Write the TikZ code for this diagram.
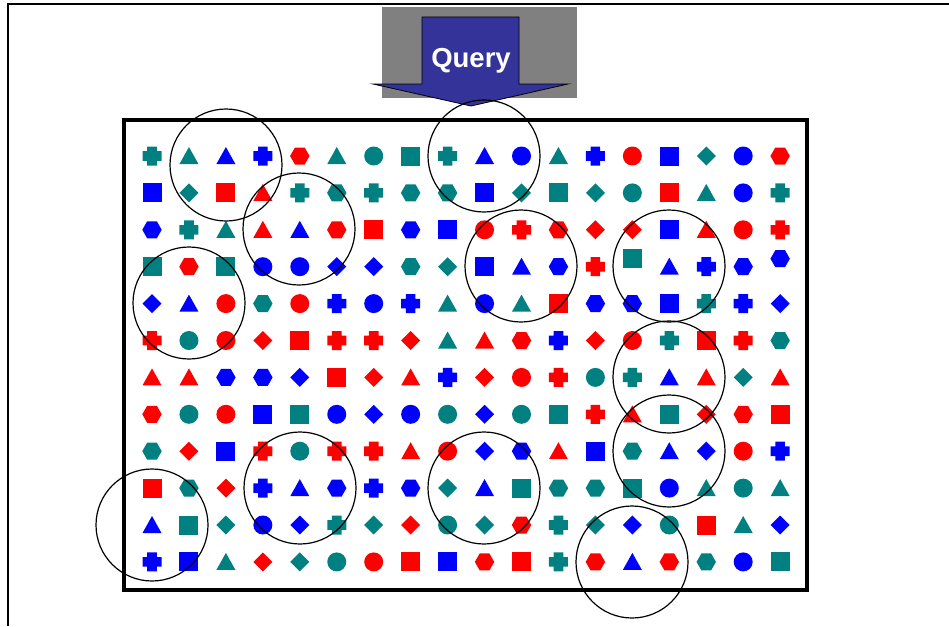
\documentclass[tikz,border=0pt]{standalone}
\usepackage{fontspec}
\setmainfont{Liberation Sans}
\definecolor{colT}{RGB}{0,128,128}
\definecolor{colB}{RGB}{0,0,255}
\definecolor{colR}{RGB}{255,0,0}
\definecolor{qblue}{RGB}{51,51,153}
\definecolor{qgray}{RGB}{128,128,128}
\def\shpsq{(-9.5,-9.5) rectangle (9.5,9.5)}
\def\shpsqU{(-9.5,-17.5) rectangle (9.5,1.5)}
\def\shpci{(0,0) circle (9.5)}
\def\shptr{(0,-9) -- (9.5,8) -- (-9.5,8) -- cycle}
\def\shphx{(-9.7,0) -- (-4.85,-8.5) -- (4.85,-8.5) -- (9.7,0) -- (4.85,8.5) -- (-4.85,8.5) -- cycle}
\def\shphxU{(-9.7,-8) -- (-4.85,-16.5) -- (4.85,-16.5) -- (9.7,-8) -- (4.85,0.5) -- (-4.85,0.5) -- cycle}
\def\shpdm{(0,-9.5) -- (9.5,0) -- (0,9.5) -- (-9.5,0) -- cycle}
\def\shpcr{(-9.5,-4.8) rectangle (9.5,4.8) (-4.8,-9.5) rectangle (4.8,9.5)}
\tikzset{
  ring/.style={draw=black, line width=1.2pt},
  qarrow/.style={fill=qblue, draw=black, line width=0.8pt},
}
\begin{document}
\begin{tikzpicture}[x=1pt,y=-1pt]
\useasboundingbox (0,0) rectangle (949,626);
\fill[white] (0,0) rectangle (949,626);
% outer frame
\draw[line width=2pt] (949,4) -- (8,4) -- (8,626);
% query box
\fill[qgray] (382,7) rectangle (577,98);
\draw[qarrow] (422,17) -- (519,17) -- (519,84) -- (568,84) -- (471,106) -- (373,84) -- (422,84) -- cycle;
\node[text=white, font=\bfseries\fontsize{27.5}{30}\selectfont] (query) at (471,60.5) {Query};
% grid of shapes
\foreach \row [count=\r] in {
 {cr/T,tr/T,tr/B,cr/B,hx/R,tr/T,ci/T,sq/T,cr/T,tr/B,ci/B,tr/T,cr/B,ci/R,sq/B,dm/T,ci/B,hx/R},
 {sq/B,dm/T,sq/R,tr/R,cr/T,hx/T,cr/T,hx/T,hx/T,sq/B,dm/T,sq/T,dm/T,ci/T,sq/R,tr/T,ci/B,cr/T},
 {hx/B,cr/T,tr/T,tr/R,tr/B,hx/R,sq/R,hx/B,sq/B,ci/R,cr/R,hx/R,dm/R,dm/R,sq/B,tr/R,ci/R,cr/R},
 {sq/T,hx/R,sq/T,ci/B,ci/B,dm/B,dm/B,hx/T,dm/T,sq/B,tr/B,hx/B,cr/R,sqU/T,tr/B,cr/B,hx/B,hxU/B},
 {dm/B,tr/B,ci/R,hx/T,ci/R,cr/B,ci/B,cr/B,tr/T,ci/B,tr/T,sq/R,hx/B,hx/B,sq/B,cr/T,cr/B,dm/B},
 {cr/R,ci/T,ci/R,dm/R,sq/R,cr/R,cr/R,dm/R,tr/T,tr/R,hx/R,cr/B,dm/R,ci/R,cr/T,sq/R,cr/R,hx/T},
 {tr/R,tr/R,hx/B,hx/B,dm/B,sq/R,dm/R,tr/R,cr/B,dm/R,ci/R,cr/R,ci/T,cr/T,tr/B,tr/R,dm/T,tr/R},
 {hx/R,ci/T,ci/R,sq/B,sq/T,ci/B,dm/B,ci/B,ci/T,dm/B,ci/T,sq/T,cr/R,tr/R,sq/T,dm/R,hx/R,sq/R},
 {hx/T,dm/R,sq/B,cr/R,ci/T,cr/R,cr/R,tr/R,ci/R,dm/B,hx/B,tr/R,sq/B,hx/T,tr/B,dm/B,ci/R,cr/B},
 {sq/R,hx/T,dm/R,cr/B,tr/B,hx/B,cr/B,hx/B,dm/T,tr/B,sq/T,hx/T,hx/T,sq/T,ci/B,tr/T,ci/T,tr/T},
 {tr/B,sq/T,dm/T,ci/B,dm/B,cr/T,dm/T,dm/R,ci/T,dm/T,hx/R,cr/T,dm/T,dm/B,ci/T,sq/R,tr/T,dm/B},
 {cr/B,sq/B,tr/T,dm/R,dm/T,ci/T,ci/R,sq/R,sq/B,hx/R,sq/R,cr/T,hx/R,tr/B,hx/R,hx/T,ci/B,sq/T}}
{
  \foreach \s/\c [count=\i] in \row {
    \begin{scope}[shift={({152+(\i-1)*36.95},{156+(\r-1)*36.9})}]
      \fill[col\c] \csname shp\s\endcsname;
    \end{scope}
  }
}
% main rectangle
\draw[line width=4.5pt] (124,120) rectangle (807,590);
% circles
\foreach \cx/\cy in {226/165, 299/229, 189/303, 484/156, 521/266, 669/266,
  669/377, 669/451, 300/488, 484/488, 152/525, 632/562}
  \draw[ring] (\cx,\cy) circle (56);
\end{tikzpicture}
\end{document}
